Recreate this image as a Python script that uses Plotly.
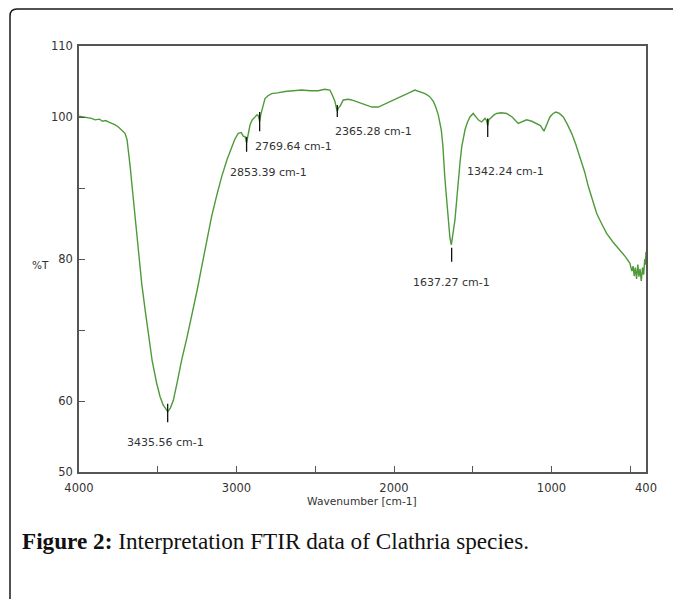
import plotly.graph_objects as go

# ---------------- data ----------------
wavenumber = [4000, 3960, 3920, 3898, 3870, 3850, 3830, 3814, 3790, 3770, 3750, 3730, 3708, 3695,
              3687, 3675, 3665, 3650, 3634, 3618, 3602, 3580, 3560, 3535, 3507, 3485, 3465, 3450,
              3437, 3420, 3401, 3375, 3348, 3315, 3284, 3250, 3221, 3190, 3158, 3125, 3094, 3060,
              3030, 3010, 2989, 2970, 2957, 2945, 2936, 2928, 2914, 2900, 2883, 2870, 2862, 2853,
              2845, 2836, 2819, 2800, 2777, 2740, 2692, 2640, 2586, 2530, 2481, 2440, 2407, 2392,
              2375, 2366, 2360, 2352, 2343, 2322, 2290, 2269, 2230, 2184, 2140, 2100, 2060, 2015,
              1970, 1930, 1895, 1867, 1835, 1803, 1775, 1750, 1735, 1719, 1700, 1690, 1676, 1665,
              1655, 1645, 1636, 1625, 1613, 1600, 1592, 1580, 1570, 1560, 1549, 1535, 1518, 1497,
              1480, 1465, 1444, 1430, 1422, 1412, 1405, 1398, 1380, 1365, 1348, 1320, 1285, 1250,
              1211, 1185, 1158, 1125, 1094, 1070, 1048, 1030, 1010, 990, 972, 950, 925, 900,
              872, 845, 819, 790, 766, 740, 713, 680, 650, 610, 565, 530, 502, 490,
              482, 475, 468, 460, 452, 445, 438, 430, 422, 415, 408, 404, 400]
transmittance = [100.1, 100.0, 99.8, 99.6, 99.7, 99.4, 99.5, 99.3, 99.1, 98.9, 98.6, 98.2, 97.7, 96.8,
                 95.4, 93.0, 90.7, 87.2, 83.6, 80.1, 76.6, 72.8, 69.5, 65.6, 62.5, 60.6, 59.4, 58.8,
                 58.5, 59.0, 60.1, 62.8, 65.8, 68.9, 71.9, 75.6, 78.9, 82.5, 86.0, 89.0, 91.6, 94.0,
                 95.8, 96.9, 97.7, 97.8, 97.3, 97.2, 96.4, 97.3, 98.9, 99.6, 100.0, 100.3, 100.2, 99.4,
                 100.4, 101.2, 102.6, 103.0, 103.3, 103.4, 103.6, 103.7, 103.8, 103.7, 103.7, 103.9, 103.8, 103.1,
                 102.2, 101.3, 100.8, 101.3, 101.5, 102.4, 102.5, 102.4, 102.1, 101.7, 101.4, 101.4, 101.8, 102.2,
                 102.7, 103.1, 103.5, 103.8, 103.6, 103.3, 102.9, 102.2, 101.4, 100.3, 98.2, 96.0, 91.1, 88.2,
                 85.5, 83.0, 82.0, 83.5, 85.5, 88.8, 91.1, 93.8, 95.8, 97.1, 98.2, 99.2, 100.0, 100.5,
                 100.0, 99.6, 99.3, 99.7, 99.8, 99.5, 98.8, 99.6, 100.0, 100.3, 100.5, 100.6, 100.5, 100.0,
                 99.1, 99.3, 99.6, 99.4, 99.1, 98.8, 98.0, 99.0, 100.0, 100.5, 100.7, 100.5, 100.0, 99.0,
                 97.7, 96.1, 94.4, 92.3, 90.2, 88.3, 86.4, 84.9, 83.6, 82.4, 81.3, 80.3, 79.4, 78.3,
                 79.0, 77.6, 78.8, 77.2, 79.2, 77.5, 78.6, 76.9, 78.8, 77.8, 80.0, 79.2, 81.0]

peak_labels = ["3435.56 cm-1", "2853.39 cm-1", "2769.64 cm-1", "2365.28 cm-1", "1637.27 cm-1", "1342.24 cm-1"]
peak_marker_wn = [3437, 2936, 2853, 2360, 1634, 1405]
peak_marker_top = [59.6, 97.2, 100.7, 101.7, 81.6, 99.8]
peak_marker_bottom = [57.0, 95.1, 98.0, 100.0, 79.6, 97.2]

x_tick_vals = [4000, 3500, 3000, 2500, 2000, 1500, 1000, 500, 400]
x_tick_text = ["4000", "", "3000", "", "2000", "", "1000", "", "400"]
y_tick_vals = [50, 60, 70, 80, 90, 100, 110]
y_tick_text = ["50", "60", "", "80", "", "100", "110"]

x_title = "Wavenumber [cm-1]"
y_title = "%T"
caption_bold = "Figure 2:"
caption_rest = " Interpretation FTIR data of Clathria species."

# ---------------- layout positions (not data) ----------------
label_pos = [(3448, 54.2), (2794, 92.2), (2635, 95.9), (2133, 97.9), (1638, 76.7), (1289, 92.3)]

W, H = 673, 599
L, R, T, B = 79, 646, 46, 472


def px(xp):
    return (xp - L) / (R - L)


def py(yp):
    return (B - yp) / (B - T)


fig = go.Figure()
fig.add_trace(go.Scatter(x=wavenumber, y=transmittance, mode="lines",
                         line=dict(color="#4e9a3a", width=1.4), hoverinfo="x+y",
                         showlegend=False))

shapes = []
for wn, t0, t1 in zip(peak_marker_wn, peak_marker_top, peak_marker_bottom):
    shapes.append(dict(type="line", xref="x", yref="y", x0=wn, x1=wn, y0=t0, y1=t1,
                       line=dict(color="#111111", width=1.3)))

# outer rounded frame (top + left edges visible)
r = 7
frame_path = (f"M {px(10)},{py(605)} L {px(10)},{py(9 + r)} "
              f"Q {px(10)},{py(9)} {px(10 + r)},{py(9)} L {px(680)},{py(9)}")
shapes.append(dict(type="path", xref="paper", yref="paper", path=frame_path,
                   line=dict(color="#1a1a1a", width=1.5)))

annotations = []
for txt, (ax, ay) in zip(peak_labels, label_pos):
    annotations.append(dict(x=ax, y=ay, xref="x", yref="y", text=txt, showarrow=False,
                            xanchor="center", yanchor="middle",
                            font=dict(family="DejaVu Sans", size=11, color="#333333")))

annotations.append(dict(x=px(40), y=py(265), xref="paper", yref="paper", text=y_title,
                        showarrow=False, xanchor="center", yanchor="middle",
                        font=dict(family="DejaVu Sans", size=10.5, color="#333333")))
annotations.append(dict(x=px(362), y=py(502), xref="paper", yref="paper", text=x_title,
                        showarrow=False, xanchor="center", yanchor="middle",
                        font=dict(family="DejaVu Sans", size=10.7, color="#333333")))
annotations.append(dict(x=px(20), y=py(541), xref="paper", yref="paper",
                        text=f"<b>{caption_bold}</b>{caption_rest}",
                        showarrow=False, xanchor="left", yanchor="middle",
                        font=dict(family="Liberation Serif", size=23.2, color="#111111")))

axis_common = dict(showline=True, linecolor="#555555", linewidth=1.5, mirror=True,
                   ticks="inside", ticklen=6, tickwidth=1.3, tickcolor="#555555",
                   showgrid=False, zeroline=False,
                   tickfont=dict(family="DejaVu Sans", size=11.5, color="#333333"))

fig.update_layout(
    width=W, height=H,
    margin=dict(l=L, r=W - R, t=T, b=H - B, pad=0),
    paper_bgcolor="white", plot_bgcolor="white",
    xaxis=dict(range=[4000, 400], tickmode="array", tickvals=x_tick_vals, ticktext=x_tick_text,
               ticklabelstandoff=4, **axis_common),
    yaxis=dict(range=[50, 110], tickmode="array", tickvals=y_tick_vals, ticktext=y_tick_text,
               ticklabelstandoff=2, **axis_common),
    shapes=shapes,
    annotations=annotations,
    showlegend=False,
)

fig.write_html("out.html")
